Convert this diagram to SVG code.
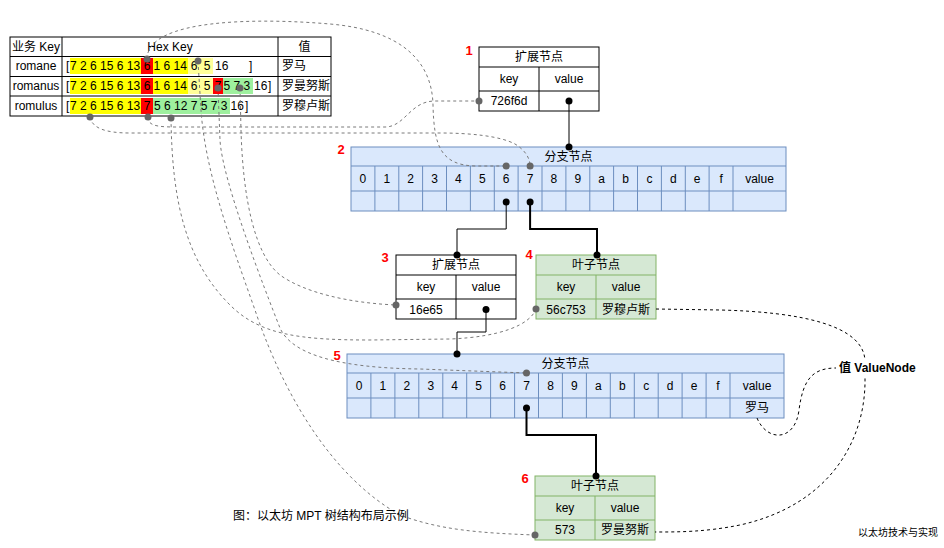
<svg xmlns="http://www.w3.org/2000/svg" width="944" height="548" viewBox="0 0 944 548">
<defs>
<style>
text{font-family:"Liberation Sans","Noto Sans CJK SC",sans-serif;font-size:12px;fill:#000;dominant-baseline:central}
.m{text-anchor:middle}
.num{fill:#ff0000;font-weight:bold;font-size:13px;text-anchor:middle}
.ext{fill:#fff;stroke:#000;stroke-width:1}
.br{fill:#dae8fc;stroke:#6c8ebf;stroke-width:1}
.lf{fill:#d5e8d4;stroke:#82b366;stroke-width:1}
.brl{fill:none;stroke:#6c8ebf;stroke-width:1}
.lfl{fill:none;stroke:#82b366;stroke-width:1}
.tl{fill:none;stroke:#000;stroke-width:1}
.dash{fill:none;stroke:#7a7a7a;stroke-width:1;stroke-dasharray:3 3}
.edge{fill:none;stroke:#000;stroke-width:1}
.edge2{fill:none;stroke:#000;stroke-width:2}
.gd{fill:#666}
.bd{fill:#000}
.y{fill:#ffff00}
.ly{fill:#ffff99}
.r{fill:#ff0000}
.g{fill:#9ef09e}
</style>
</defs>
<rect x="0" y="0" width="944" height="548" fill="#fff"/>

<g id="key-table">
<rect x="10" y="37" width="321" height="79" fill="#fff"/>
<rect class="y" x="70" y="58" width="71" height="16"/>
<rect class="r" x="141" y="58" width="12" height="16"/>
<rect class="y" x="153" y="58" width="35" height="16"/>
<rect class="ly" x="188" y="58" width="25" height="16"/>
<rect class="y" x="70" y="78" width="71" height="16"/>
<rect class="r" x="141" y="78" width="12" height="16"/>
<rect class="y" x="153" y="78" width="35" height="16"/>
<rect class="ly" x="188" y="78" width="25" height="16"/>
<rect class="r" x="213" y="78" width="10" height="16"/>
<rect class="g" x="223" y="78" width="30" height="16"/>
<rect class="y" x="70" y="98" width="71" height="16"/>
<rect class="r" x="141" y="98" width="12" height="16"/>
<rect class="g" x="153" y="98" width="77" height="16"/>
<rect class="tl" x="10" y="37" width="321" height="79"/>
<path class="tl" d="M10,56.5H331M10,76.5H331M10,96H331M62,37V116M278,37V116"/>
<text class="m" x="36" y="46.5">业务 Key</text>
<text class="m" x="170" y="46.5">Hex Key</text>
<text class="m" x="304.5" y="46.5">值</text>
<text class="m" x="36" y="66">romane</text>
<text class="m" x="36" y="86">romanus</text>
<text class="m" x="36" y="106">romulus</text>
<text x="66" y="66">[</text><text x="70" y="66">7 2 6 15 6 13</text><text class="m" x="147" y="66">6</text><text x="153.5" y="66">1 6 14</text><text class="m" x="194" y="66">6</text><text class="m" x="207" y="66">5</text><text x="215" y="66">16</text><text x="249" y="66">]</text>
<text x="66" y="86">[</text><text x="70" y="86">7 2 6 15 6 13</text><text class="m" x="147" y="86">6</text><text x="153.5" y="86">1 6 14</text><text class="m" x="194" y="86">6</text><text class="m" x="207" y="86">5</text><text class="m" x="218" y="86">7</text><text x="223.5" y="86">5 7 3</text><text x="254" y="86">16</text><text x="268" y="86">]</text>
<text x="66" y="106">[</text><text x="70" y="106">7 2 6 15 6 13</text><text class="m" x="147" y="106">7</text><text x="154" y="106">5 6 12 7 5 7 3</text><text x="230.5" y="106">16</text><text x="245" y="106">]</text>
<text x="282" y="66">罗马</text>
<text x="282" y="86">罗曼努斯</text>
<text x="282" y="106">罗穆卢斯</text>
</g>

<g id="node1">
<rect class="ext" x="479" y="47" width="120" height="64"/>
<path class="tl" d="M479,67H599M479,91H599M539,67V111"/>
<text class="m" x="539" y="57">扩展节点</text>
<text class="m" x="509" y="79">key</text>
<text class="m" x="569" y="79">value</text>
<text class="m" x="509" y="101">726f6d</text>
<text class="num" x="469" y="50">1</text>
</g>

<g id="node2">
<rect class="br" x="351" y="147" width="435" height="64"/>
<path class="brl" d="M351,166H786M351,191H786M374.9,166V211M398.8,166V211M422.6,166V211M446.5,166V211M470.4,166V211M494.3,166V211M518.1,166V211M542,166V211M565.9,166V211M589.8,166V211M613.6,166V211M637.5,166V211M661.4,166V211M685.3,166V211M709.1,166V211M733,166V211"/>
<text class="m" x="568.5" y="156.5">分支节点</text>
<text class="m" x="362.9" y="178.5">0</text><text class="m" x="386.8" y="178.5">1</text><text class="m" x="410.7" y="178.5">2</text><text class="m" x="434.6" y="178.5">3</text><text class="m" x="458.4" y="178.5">4</text><text class="m" x="482.3" y="178.5">5</text><text class="m" x="506.2" y="178.5">6</text><text class="m" x="530.1" y="178.5">7</text><text class="m" x="553.9" y="178.5">8</text><text class="m" x="577.8" y="178.5">9</text><text class="m" x="601.7" y="178.5">a</text><text class="m" x="625.6" y="178.5">b</text><text class="m" x="649.4" y="178.5">c</text><text class="m" x="673.3" y="178.5">d</text><text class="m" x="697.2" y="178.5">e</text><text class="m" x="721.1" y="178.5">f</text><text class="m" x="759.5" y="178.5">value</text>
<text class="num" x="341" y="149">2</text>
</g>

<g id="node3">
<rect class="ext" x="396" y="255" width="120" height="64"/>
<path class="tl" d="M396,275H516M396,299H516M456,275V319"/>
<text class="m" x="456" y="265">扩展节点</text>
<text class="m" x="426" y="287">key</text>
<text class="m" x="486" y="287">value</text>
<text class="m" x="426" y="309.5">16e65</text>
<text class="num" x="385" y="257">3</text>
</g>

<g id="node4">
<rect class="lf" x="536" y="255" width="120" height="64"/>
<path class="lfl" d="M536,275H656M536,299H656M596,275V319"/>
<text class="m" x="596" y="265">叶子节点</text>
<text class="m" x="566" y="287">key</text>
<text class="m" x="626" y="287">value</text>
<text class="m" x="566" y="309.5">56c753</text>
<text class="m" x="626" y="309.5">罗穆卢斯</text>
<text class="num" x="529" y="254">4</text>
</g>

<g id="node5">
<rect class="br" x="347" y="354" width="437" height="64"/>
<path class="brl" d="M347,373H784M347,398H784M370.9,373V418M394.9,373V418M418.8,373V418M442.8,373V418M466.7,373V418M490.6,373V418M514.6,373V418M538.5,373V418M562.4,373V418M586.4,373V418M610.3,373V418M634.3,373V418M658.2,373V418M682.1,373V418M706.1,373V418M730,373V418"/>
<text class="m" x="565.5" y="363.5">分支节点</text>
<text class="m" x="359" y="385.5">0</text><text class="m" x="382.9" y="385.5">1</text><text class="m" x="406.8" y="385.5">2</text><text class="m" x="430.8" y="385.5">3</text><text class="m" x="454.7" y="385.5">4</text><text class="m" x="478.7" y="385.5">5</text><text class="m" x="502.6" y="385.5">6</text><text class="m" x="526.5" y="385.5">7</text><text class="m" x="550.5" y="385.5">8</text><text class="m" x="574.4" y="385.5">9</text><text class="m" x="598.3" y="385.5">a</text><text class="m" x="622.3" y="385.5">b</text><text class="m" x="646.2" y="385.5">c</text><text class="m" x="670.2" y="385.5">d</text><text class="m" x="694.1" y="385.5">e</text><text class="m" x="718" y="385.5">f</text><text class="m" x="757" y="385.5">value</text>
<text class="m" x="757" y="408">罗马</text>
<text class="num" x="337" y="355">5</text>
</g>

<g id="node6">
<rect class="lf" x="535" y="476" width="120" height="64"/>
<path class="lfl" d="M535,496H655M535,520H655M595,496V540"/>
<text class="m" x="595" y="486">叶子节点</text>
<text class="m" x="565" y="508">key</text>
<text class="m" x="625" y="508">value</text>
<text class="m" x="565" y="530">573</text>
<text class="m" x="625" y="530">罗曼努斯</text>
<text class="num" x="525" y="478">6</text>
</g>

<g id="connectors">
<path class="edge" d="M569,101V147"/>
<path class="edge" d="M506.2,202V229H457V255"/>
<path class="edge2" d="M530.1,202V229H597V255"/>
<path class="edge" d="M486,309.5V332H457V354"/>
<path class="edge2" d="M526.5,408V435H596V476"/>
<path class="dash" d="M147,59 C147,18 260,18 330,24 C400,30 432,60 433,105 C434,145 440,165 475,166 L506.2,166"/>
<path class="dash" d="M148,117 C148,125 155,127 175,127 L385,127 C405,127 410,101 435,101 L479,101"/>
<path class="dash" d="M90,117 C92,128 105,133 130,133 L440,133 C470,133 500,136 515,144 C525,150 530,158 530.1,166"/>
<path class="dash" d="M171,118 C172,200 185,260 230,305 C260,335 300,340 370,340 L450,339 C500,337 530,325 536,309"/>
<path class="dash" d="M198,61 L201,110 C205,170 230,240 255,310 C275,370 320,470 400,515 C440,530 480,533 535,535"/>
<path class="dash" d="M218,88 L220,140 C222,180 265,290 280,328 C292,355 340,368 420,369 L526.5,373"/>
<path class="dash" d="M240,88 L241,130 C243,200 255,255 280,275 C305,293 350,303 396,305"/>
<path class="dash" style="stroke:#000" d="M656,309 L720,310 C800,312 865,325 865,362 L865,378 C866,440 830,505 740,525 C705,532 680,532 655,532"/>
<path class="dash" style="stroke:#000" d="M757,418 C767,442 795,442 799,410 C803,380 812,368 836,368"/>
<circle class="bd" cx="569" cy="101" r="3.5"/><circle class="bd" cx="569" cy="147" r="3.5"/>
<circle class="bd" cx="506.2" cy="202" r="3.5"/><circle class="bd" cx="457" cy="255" r="3.5"/>
<circle class="bd" cx="530.1" cy="202" r="3.5"/><circle class="bd" cx="597" cy="255" r="3.5"/>
<circle class="bd" cx="486" cy="309.5" r="3.5"/><circle class="bd" cx="457" cy="354" r="3.5"/>
<circle class="bd" cx="526.5" cy="408" r="3.5"/><circle class="bd" cx="596" cy="476" r="3.5"/>
<circle class="gd" cx="147" cy="59" r="3.5"/><circle class="gd" cx="198" cy="61" r="3.5"/>
<circle class="gd" cx="218" cy="88" r="3.5"/><circle class="gd" cx="240" cy="88" r="3.5"/>
<circle class="gd" cx="90" cy="117" r="3.5"/><circle class="gd" cx="148" cy="117" r="3.5"/>
<circle class="gd" cx="171" cy="118" r="3.5"/><circle class="gd" cx="479" cy="101" r="3.5"/>
<circle class="gd" cx="506.2" cy="166" r="3.5"/><circle class="gd" cx="530.1" cy="166" r="3.5"/>
<circle class="gd" cx="396" cy="305" r="3.5"/><circle class="gd" cx="536" cy="309" r="3.5"/>
<circle class="gd" cx="526.5" cy="373" r="3.5"/><circle class="gd" cx="535" cy="535" r="3.5"/>
</g>

<g id="value-node-label">
<rect x="836" y="359" width="82" height="18" fill="#fff"/>
<text x="839" y="368" style="font-weight:bold">值 ValueNode</text>
</g>

<text x="233" y="516">图：以太坊 MPT 树结构布局示例</text>
<text x="858" y="532" style="font-size:10px">以太坊技术与实现</text>
</svg>
